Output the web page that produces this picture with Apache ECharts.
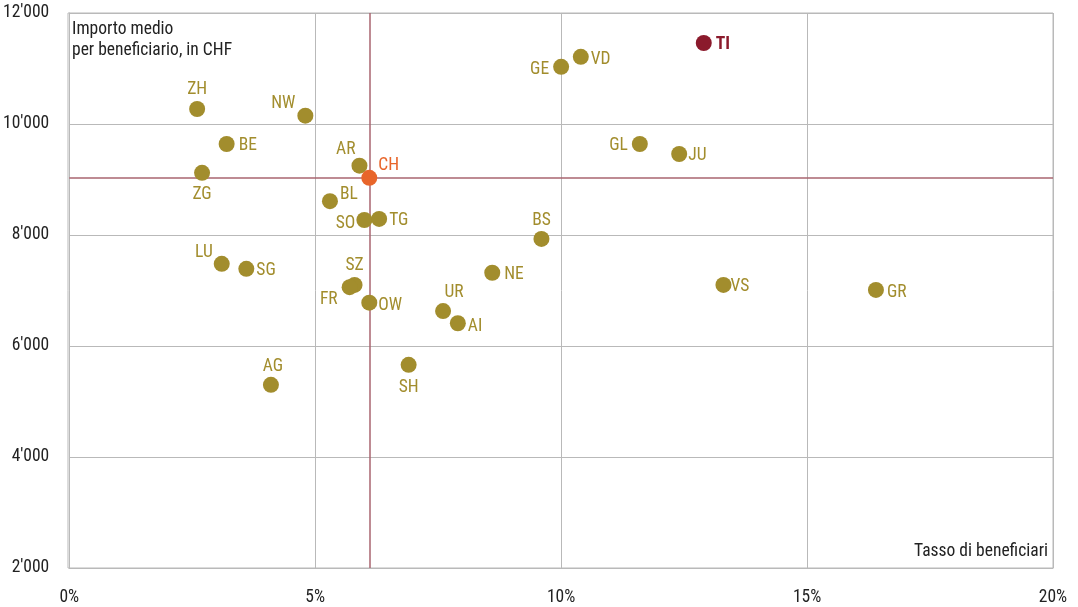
<!DOCTYPE html>
<html>
<head>
<meta charset="utf-8">
<script src="https://cdn.jsdelivr.net/npm/echarts@6/dist/echarts.min.js"></script>
<style>
  html, body { margin: 0; padding: 0; background: #fff; }
  #chart { width: 1078px; height: 607px; }
</style>
</head>
<body>
<div id="chart"></div>
<script>
// Cantons: share of beneficiaries (%) vs average amount per beneficiary (CHF)
const cantons = ['ZH','NW','BE','ZG','AR','BL','SO','TG','LU','SG','SZ','FR','OW','UR','AI','NE','BS','SH','AG','GE','VD','GL','JU','VS','GR'];
const rate    = [2.6, 4.8, 3.2, 2.7, 5.9, 5.3, 6.0, 6.3, 3.1, 3.6, 5.8, 5.7, 6.1, 7.6, 7.9, 8.6, 9.6, 6.9, 4.1, 10.0, 10.4, 11.6, 12.4, 13.3, 16.4];
const amount  = [10270, 10150, 9640, 9120, 9250, 8610, 8270, 8290, 7480, 7390, 7100, 7060, 6780, 6630, 6410, 7320, 7930, 5660, 5300, 11030, 11210, 9640, 9460, 7100, 7010];

// Highlighted canton and national reference
const tiName = 'TI';
const tiRate = 12.9;
const tiAmount = 11460;
const chName = 'CH';
const chRate = 6.1;
const chAmount = 9030;

const xTicks = [0, 5, 10, 15, 20];
const yTicks = [2000, 4000, 6000, 8000, 10000, 12000];

const FONT = "'Roboto Condensed', 'Liberation Sans Narrow', 'DejaVu Sans Condensed', sans-serif";
const FS = 17.5;
const GOLD = '#a28d2d';
const ORANGE = '#e8652a';
const DARKRED = '#8b1a2c';
const REFLINE = '#a9646f';
const GRID = '#b9b9b9';

// Label placement around each dot: [side, [dx, dy]]
const placement = {
  ZH: ['top', [0, 2]],
  NW: ['left', [2, -12]],
  BE: ['right', [0, 2]],
  ZG: ['bottom', [0, 1]],
  AR: ['left', [8, -16]],
  BL: ['right', [-2, -7]],
  SO: ['left', [3, 4]],
  TG: ['right', [-2, 2]],
  LU: ['left', [3, -11]],
  SG: ['right', [-2, 2]],
  SZ: ['top', [0, 2]],
  FR: ['left', [0, 12]],
  OW: ['right', [-3, 3]],
  UR: ['top', [11, 3]],
  AI: ['right', [-2, 3]],
  NE: ['right', [0, 2]],
  BS: ['top', [0, 3]],
  SH: ['bottom', [0, 2]],
  AG: ['top', [2, 3]],
  GE: ['left', [0, 3]],
  VD: ['right', [-2, 3]],
  GL: ['left', [0, 2]],
  JU: ['right', [-3, 2]],
  VS: ['right', [-5, 2]],
  GR: ['right', [-1, 3]]
};

const cantonData = cantons.map((name, i) => {
  const p = placement[name];
  return {
    name: name,
    value: [rate[i], amount[i]],
    label: { position: p[0], offset: p[1] }
  };
});

const fmtThousands = v => {
  const s = String(Math.round(v));
  return s.replace(/\B(?=(\d{3})+(?!\d))/g, "'");
};

const chart = echarts.init(document.getElementById('chart'), null, { renderer: 'canvas' });

chart.setOption({
  animation: false,
  backgroundColor: '#ffffff',
  textStyle: { fontFamily: FONT },
  grid: { left: 68, right: 25, top: 13, bottom: 39, containLabel: false },
  xAxis: {
    type: 'value',
    min: xTicks[0],
    max: xTicks[xTicks.length - 1],
    interval: xTicks[1] - xTicks[0],
    axisLine: { show: true, lineStyle: { color: GRID, width: 1 } },
    axisTick: { show: false },
    splitLine: { show: true, lineStyle: { color: GRID, width: 1 } },
    axisLabel: {
      margin: 21,
      color: '#222',
      fontSize: FS,
      fontFamily: FONT,
      formatter: v => v + '%'
    }
  },
  yAxis: {
    type: 'value',
    min: yTicks[0],
    max: yTicks[yTicks.length - 1],
    interval: yTicks[1] - yTicks[0],
    axisLine: { show: true, lineStyle: { color: GRID, width: 1 } },
    axisTick: { show: false },
    splitLine: { show: true, lineStyle: { color: GRID, width: 1 } },
    axisLabel: {
      margin: 20,
      color: '#222',
      fontSize: FS,
      fontFamily: FONT,
      formatter: fmtThousands
    }
  },
  graphic: [
    {
      type: 'rect',
      shape: { x: 68, y: 13, width: 985, height: 555 },
      style: { fill: 'none', stroke: GRID, lineWidth: 1 },
      silent: true,
      z: 0
    },
    {
      type: 'text',
      left: 72,
      top: 19,
      style: {
        text: 'Importo medio\nper beneficiario, in CHF',
        font: FS + 'px ' + FONT,
        fill: '#222',
        lineHeight: 21
      }
    },
    {
      type: 'text',
      right: 30,
      top: 543,
      style: {
        text: 'Tasso di beneficiari',
        font: FS + 'px ' + FONT,
        fill: '#222',
        textAlign: 'right'
      }
    }
  ],
  series: [
    {
      name: 'Cantoni',
      type: 'scatter',
      symbol: 'circle',
      symbolSize: 16,
      itemStyle: { color: GOLD, opacity: 1 },
      label: {
        show: true,
        formatter: '{b}',
        color: GOLD,
        fontSize: FS,
        fontFamily: FONT,
        distance: 4
      },
      data: cantonData,
      z: 3,
      markLine: {
        silent: true,
        symbol: 'none',
        label: { show: false },
        lineStyle: { color: REFLINE, width: 1.5, type: 'solid', opacity: 1 },
        data: [
          { xAxis: chRate },
          { yAxis: chAmount }
        ],
        z: 2
      }
    },
    {
      name: chName,
      type: 'scatter',
      symbol: 'circle',
      symbolSize: 16,
      itemStyle: { color: ORANGE, opacity: 1 },
      label: {
        show: true,
        formatter: '{b}',
        color: ORANGE,
        fontSize: FS,
        fontFamily: FONT,
        position: 'right',
        distance: 1,
        offset: [0, -12]
      },
      data: [{ name: chName, value: [chRate, chAmount] }],
      z: 4
    },
    {
      name: tiName,
      type: 'scatter',
      symbol: 'circle',
      symbolSize: 16,
      itemStyle: { color: DARKRED, opacity: 1 },
      label: {
        show: true,
        formatter: '{b}',
        color: DARKRED,
        fontSize: FS,
        fontWeight: 'bold',
        fontFamily: FONT,
        position: 'right',
        distance: 4,
        offset: [0, 2]
      },
      data: [{ name: tiName, value: [tiRate, tiAmount] }],
      z: 4
    }
  ]
});
</script>
</body>
</html>
